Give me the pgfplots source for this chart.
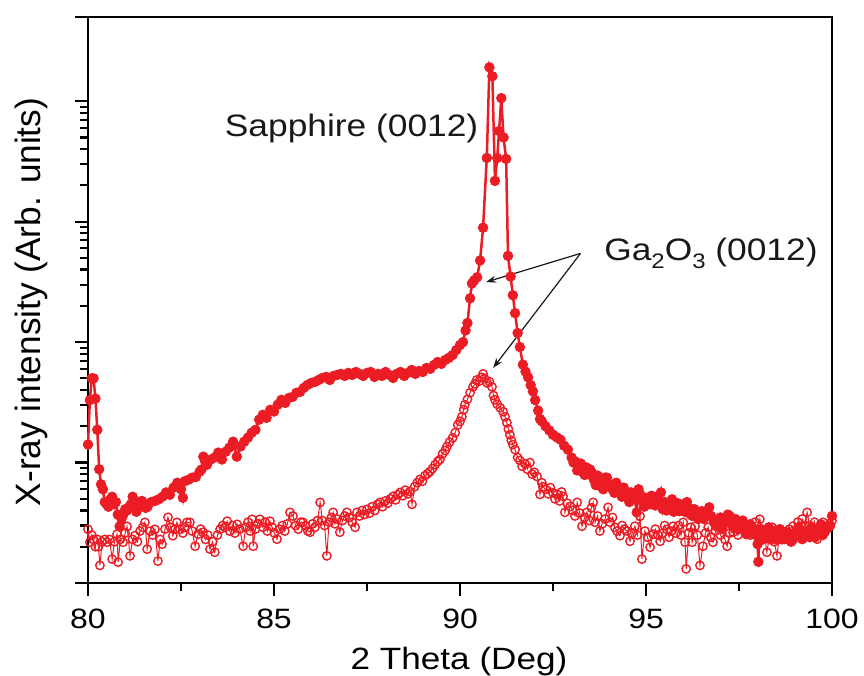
\documentclass[border=0pt]{standalone}
\usepackage{pgfplots}
\pgfplotsset{compat=1.18}
\usepackage{fontspec}
\setmainfont{Liberation Sans}[FakeStretch=1.14]
\newfontfamily\plainsans{Liberation Sans}
\usetikzlibrary{arrows.meta}
\definecolor{xrdred}{RGB}{236,28,36}
\definecolor{inkgray}{RGB}{25,25,25}
\newcommand{\sub}[1]{\raisebox{-0.5ex}{\fontsize{10.5}{12}\selectfont #1}}

\begin{document}
\begin{tikzpicture}
\begin{axis}[
  scale only axis, width=372pt, height=283pt,
  xmin=80, xmax=100, ymode=log, ymin=1, ymax=50000,
  clip=false,
  xtick={80,85,90,95,100}, minor x tick num=1,
  ytick={1,10,100,1000,10000}, yticklabels={,,,,,},
  extra y ticks={50000}, extra y tick labels={,},
  tick align=outside, tick pos=left,
  major tick length=6.5pt, minor tick length=4pt,
  every tick/.style={line width=1.1pt, black},
  axis line style={line width=1.3pt},
  /pgf/number format/assume math mode=true,
  xticklabel style={font=\fontsize{14}{16}\selectfont, anchor=base, yshift=-16pt},
  every axis x label/.style={at={(axis description cs:0.4987,-0.153)}, anchor=base,
    font=\fontsize{15.4}{18}\selectfont},
  every axis y label/.style={at={(axis description cs:-0.0645,0.4965)}, anchor=base,
    rotate=90, font=\plainsans\fontsize{17.6}{20}\selectfont},
  xlabel={2 Theta (Deg)},
  ylabel={X-ray intensity (Arb. units)},
]
% film scan (open symbols)
\addplot[xrdred, line width=0.5pt, mark=o, mark size=2.1pt, mark options={line width=0.7pt, fill=white}] coordinates {
(80.00,2.79) (80.05,2.18) (80.10,2.5) (80.15,2.3) (80.20,2.0) (80.24,2.31) (80.28,2.0) (80.32,1.40) (80.38,2.2) (80.45,2.3)
(80.51,2.18) (80.58,2.3) (80.65,1.58) (80.71,2.2) (80.78,2.54) (80.81,1.49) (80.87,2.3) (80.94,2.18) (81.00,2.6) (81.05,2.95)
(81.13,1.68) (81.20,2.3) (81.26,2.47) (81.33,2.2) (81.40,2.70) (81.47,2.9) (81.53,3.19) (81.59,1.91) (81.67,2.70) (81.74,2.5)
(81.80,2.79) (81.88,1.52) (81.94,2.3) (81.99,2.10) (82.07,2.8) (82.15,3.51) (82.22,2.9) (82.28,2.47) (82.34,2.8) (82.39,3.19)
(82.47,2.79) (82.55,2.6) (82.60,2.9) (82.66,3.19) (82.74,3.19) (82.80,2.7) (82.88,2.02) (82.96,2.54) (83.03,2.8) (83.09,2.64)
(83.16,2.3) (83.22,2.5) (83.28,1.91) (83.35,2.2) (83.41,1.80) (83.48,2.5) (83.55,2.79) (83.62,3.0) (83.68,2.9) (83.74,3.26)
(83.81,2.7) (83.88,3.0) (83.95,2.6) (84.01,3.07) (84.08,2.8) (84.17,2.02) (84.24,2.9) (84.30,3.2) (84.36,2.7) (84.41,3.38)
(84.44,2.02) (84.50,2.8) (84.56,3.1) (84.62,3.38) (84.70,2.9) (84.76,3.2) (84.82,2.7) (84.89,3.26) (84.95,2.9) (85.01,2.6)
(85.08,2.31) (85.15,2.8) (85.22,3.0) (85.29,2.7) (85.36,3.1) (85.43,3.86) (85.51,3.6) (85.58,3.0) (85.65,2.8) (85.72,3.2)
(85.78,3.19) (85.85,3.0) (85.91,2.7) (85.97,2.64) (86.04,3.1) (86.10,2.9) (86.17,3.3) (86.24,4.67) (86.30,3.3) (86.36,3.0)
(86.42,1.68) (86.48,3.2) (86.54,3.5) (86.59,3.86) (86.64,3.1) (86.69,3.4) (86.77,2.64) (86.84,3.3) (86.90,3.6) (86.96,3.86)
(87.03,3.5) (87.10,3.2) (87.18,2.90) (87.23,3.86) (87.30,3.6) (87.37,4.0) (87.43,3.7) (87.50,4.09) (87.57,3.8) (87.64,4.3)
(87.71,4.0) (87.78,4.5) (87.85,4.67) (87.92,4.3) (87.99,4.8) (88.06,4.6) (88.13,5.0) (88.20,5.24) (88.27,4.9) (88.33,5.4)
(88.39,5.65) (88.46,5.3) (88.53,5.9) (88.60,5.5) (88.66,5.75) (88.71,4.5) (88.78,6.3) (88.85,6.8) (88.92,7.24) (88.99,7.0)
(89.06,7.8) (89.13,8.1) (89.19,8.4) (89.26,8.9) (89.33,9.6) (89.40,10.2) (89.46,10.6) (89.53,11.8) (89.60,12.6) (89.65,13.6)
(89.72,14.8) (89.80,16.0) (89.87,17.7) (89.94,20.5) (90.00,22.0) (90.05,24.0) (90.10,27.5) (90.13,30.2) (90.20,33.5) (90.27,38.0)
(90.35,42.5) (90.40,45.0) (90.45,48.5) (90.52,47.5) (90.58,51.0) (90.62,54.5) (90.66,50.0) (90.73,45.8) (90.79,47.0) (90.86,42.5)
(90.90,36.0) (90.94,33.2) (91.00,30.5) (91.08,28.5) (91.16,26.4) (91.21,24.0) (91.26,21.4) (91.30,19.0) (91.34,17.0) (91.38,15.3)
(91.42,14.1) (91.48,12.8) (91.55,11.0) (91.61,10.4) (91.67,9.3) (91.74,9.8) (91.81,8.8) (91.88,10.0) (91.94,8.0) (92.00,8.3)
(92.07,7.66) (92.15,5.44) (92.20,6.8) (92.23,6.3) (92.30,6.0) (92.37,5.5) (92.43,6.2) (92.50,5.6) (92.55,5.0) (92.61,5.44)
(92.68,4.8) (92.73,5.7) (92.77,5.24) (92.82,3.86) (92.88,4.6) (92.96,4.32) (93.03,4.0) (93.09,3.6) (93.15,4.67) (93.22,3.8)
(93.28,2.96) (93.35,3.5) (93.41,3.86) (93.48,3.3) (93.53,4.2) (93.58,4.67) (93.63,3.19) (93.70,3.6) (93.76,2.70) (93.82,3.1)
(93.90,3.4) (93.98,4.25) (94.03,3.19) (94.10,3.5) (94.16,2.9) (94.22,2.70) (94.30,2.47) (94.36,3.0) (94.42,2.8) (94.49,2.70)
(94.57,2.22) (94.63,2.6) (94.70,2.96) (94.77,2.5) (94.84,3.58) (94.89,1.58) (94.97,2.70) (95.04,2.4) (95.11,1.98) (95.19,2.54)
(95.25,2.8) (95.32,2.5) (95.38,2.22) (95.45,2.6) (95.50,3.0) (95.56,2.79) (95.62,2.4) (95.68,2.7) (95.73,2.96) (95.80,2.6)
(95.87,3.0) (95.94,2.5) (96.00,3.19) (96.05,2.18) (96.08,1.31) (96.15,2.6) (96.20,2.9) (96.24,2.18) (96.32,2.96) (96.38,2.5)
(96.45,1.40) (96.53,2.02) (96.60,2.6) (96.67,2.9) (96.74,2.4) (96.80,2.18) (96.87,2.7) (96.94,3.0) (97.00,2.5) (97.06,2.8)
(97.12,2.3) (97.18,2.02) (97.25,2.6) (97.34,2.64) (97.40,3.0) (97.47,2.5) (97.53,2.8) (97.60,3.2) (97.66,3.07) (97.73,2.7)
(97.80,2.5) (97.86,2.9) (97.93,3.2) (98.00,2.8) (98.06,3.38) (98.12,2.7) (98.19,2.4) (98.25,1.80) (98.32,2.5) (98.39,2.9)
(98.45,2.2) (98.52,1.68) (98.58,2.4) (98.65,2.7) (98.72,2.3) (98.79,2.47) (98.85,2.8) (98.95,2.96) (99.01,2.6) (99.08,3.2)
(99.14,2.8) (99.20,3.4) (99.27,3.0) (99.33,3.86) (99.40,3.0) (99.47,2.7) (99.53,3.2) (99.60,2.31) (99.67,2.8) (99.76,3.19)
(99.82,2.7) (99.90,3.0) (100.00,3.3)
};
% film + substrate scan (filled symbols)
\addplot[xrdred, line width=1.25pt, mark=*, mark size=2.4pt, mark options={fill=xrdred, draw=xrdred, line width=0.4pt}] coordinates {
(80.00,14.1) (80.05,33) (80.10,50) (80.15,50) (80.20,34) (80.25,18.7) (80.30,8.8) (80.35,6.6) (80.40,6.0) (80.45,4.7)
(80.50,4.5) (80.55,4.3) (80.60,4.95) (80.65,5.2) (80.70,4.5) (80.75,4.7) (80.80,3.7) (80.85,2.95) (80.90,3.4) (80.95,3.7)
(81.00,4.1) (81.05,4.0) (81.10,4.25) (81.15,4.5) (81.20,5.2) (81.25,4.5) (81.30,3.9) (81.35,4.25) (81.40,4.7) (81.45,4.8)
(81.50,4.5) (81.55,4.2) (81.60,4.3) (81.70,4.7) (81.80,4.8) (81.90,4.95) (82.00,5.2) (82.10,5.65) (82.20,5.4) (82.30,6.2)
(82.40,6.8) (82.50,6.0) (82.55,5.1) (82.60,7.0) (82.70,7.2) (82.80,7.5) (82.90,7.6) (83.00,8.4) (83.05,8.75) (83.10,11.2)
(83.15,10.2) (83.20,9.6) (83.30,10.6) (83.40,11.0) (83.50,12.1) (83.60,10.6) (83.70,12.3) (83.80,13.3) (83.90,14.9) (84.00,11.2)
(84.10,13.6) (84.20,14.9) (84.30,16.1) (84.40,17.7) (84.50,18.7) (84.60,22.7) (84.70,24.9) (84.80,23.5) (84.90,27.4) (85.00,26.5)
(85.10,30.2) (85.20,33.2) (85.30,31.3) (85.40,34.4) (85.50,35.1) (85.60,37.9) (85.70,38.6) (85.80,41.7) (85.90,44.1) (86.00,45.8)
(86.10,46.7) (86.20,48.5) (86.30,50.4) (86.40,51.4) (86.50,48.5) (86.60,52.4) (86.70,53.4) (86.80,54.5) (86.90,52.4) (87.00,55.5)
(87.10,53.4) (87.20,56.5) (87.30,54.5) (87.40,52.4) (87.50,55.5) (87.60,56.5) (87.70,51.4) (87.80,54.5) (87.90,52.4) (88.00,56.5)
(88.10,53.4) (88.20,50.4) (88.30,54.5) (88.40,56.5) (88.50,52.4) (88.60,55.5) (88.70,58.7) (88.80,54.5) (88.90,57.6) (89.00,56.5)
(89.10,61.0) (89.20,60.0) (89.30,64.6) (89.40,68.4) (89.50,66.0) (89.60,71.0) (89.70,74.0) (89.80,78.0) (89.90,86.0) (90.00,94.5)
(90.08,100) (90.15,125) (90.20,144) (90.27,231) (90.32,307) (90.38,325) (90.46,345) (90.54,476) (90.62,891) (90.72,3380)
(90.79,19100) (90.87,16100) (90.94,2180) (91.00,3380) (91.05,5650) (91.11,10600) (91.17,5000) (91.24,3320) (91.29,520) (91.36,350)
(91.42,245) (91.48,174) (91.55,119) (91.61,91) (91.69,65) (91.76,57) (91.83,51) (91.90,44) (91.96,39) (92.02,33)
(92.10,27) (92.15,23) (92.20,22) (92.30,20) (92.40,18.5) (92.50,17.0) (92.60,16.2) (92.70,15.5) (92.80,13.8) (92.90,12.8)
(93.00,11.0) (93.05,10.0) (93.10,10.2) (93.15,8.6) (93.20,9.4) (93.25,9.8) (93.30,8.3) (93.35,7.9) (93.40,9.1) (93.45,8.0)
(93.50,8.75) (93.55,8.2) (93.60,7.2) (93.65,6.5) (93.70,7.8) (93.75,7.0) (93.80,6.3) (93.85,6.0) (93.90,7.5) (93.95,7.5)
(94.00,6.6) (94.05,6.3) (94.10,6.0) (94.15,5.6) (94.20,6.8) (94.25,6.0) (94.30,5.8) (94.35,5.2) (94.40,6.2) (94.45,5.8)
(94.50,5.2) (94.55,4.7) (94.60,5.65) (94.65,5.3) (94.70,4.95) (94.75,3.86) (94.80,6.0) (94.85,5.4) (94.90,4.8) (94.95,4.3)
(95.00,5.1) (95.05,4.6) (95.10,4.5) (95.15,5.3) (95.20,4.95) (95.25,4.4) (95.30,5.2) (95.35,4.8) (95.40,5.65) (95.45,4.1)
(95.50,4.7) (95.55,4.0) (95.60,4.25) (95.65,4.6) (95.70,4.95) (95.75,3.9) (95.80,4.3) (95.85,4.6) (95.90,3.95) (95.95,4.1)
(96.00,4.5) (96.05,3.9) (96.10,4.7) (96.15,4.2) (96.20,3.7) (96.25,3.6) (96.30,4.1) (96.35,3.8) (96.40,3.4) (96.45,3.6)
(96.50,3.95) (96.55,3.4) (96.60,3.7) (96.65,3.86) (96.70,4.25) (96.75,3.6) (96.80,3.4) (96.85,3.1) (96.90,2.95) (96.95,3.3)
(97.00,3.5) (97.05,2.9) (97.10,3.2) (97.15,3.4) (97.20,3.7) (97.25,3.6) (97.30,3.07) (97.35,2.9) (97.40,3.4) (97.45,3.1)
(97.50,2.8) (97.55,3.2) (97.60,3.3) (97.65,2.8) (97.70,2.54) (97.75,2.9) (97.80,3.07) (97.85,2.6) (97.90,2.7) (97.95,2.5)
(98.00,2.1) (98.02,1.5) (98.05,2.6) (98.10,2.8) (98.15,2.3) (98.20,2.4) (98.25,2.6) (98.30,2.9) (98.35,2.3) (98.40,2.54)
(98.45,2.7) (98.50,2.31) (98.55,2.5) (98.60,2.8) (98.65,2.3) (98.70,2.4) (98.75,2.6) (98.80,2.64) (98.85,2.3) (98.90,2.2)
(98.95,2.3) (99.00,2.54) (99.05,2.7) (99.10,2.9) (99.15,2.4) (99.20,2.31) (99.25,2.6) (99.30,2.7) (99.35,2.5) (99.40,2.4)
(99.45,2.9) (99.50,2.8) (99.55,2.4) (99.60,2.5) (99.65,2.7) (99.70,3.07) (99.75,2.5) (99.80,2.64) (99.85,2.8) (99.90,2.9)
(99.95,3.0) (100.00,3.6)
};
% annotations
\node[anchor=base west, inkgray, font=\fontsize{15.5}{18}\selectfont] at (axis cs:83.49,5140) {Sapphire (0012)};
\node[anchor=base west, inkgray, font=\fontsize{15.5}{18}\selectfont] at (axis cs:93.69,476) {Ga\sub{2}O\sub{3} (0012)};
\draw[inkgray, line width=0.6pt, -{Stealth[length=5pt,width=3.5pt]}] (axis cs:93.24,545) -- (axis cs:90.70,315);
\draw[inkgray, line width=0.6pt, -{Stealth[length=5pt,width=3.5pt]}] (axis cs:93.24,545) -- (axis cs:90.89,61);
\coordinate (sw) at (rel axis cs:0,0);
\coordinate (ne) at (rel axis cs:1,1);
\end{axis}
\pgfresetboundingbox
\path[use as bounding box] ([shift={(-44pt,-46pt)}]sw) rectangle ([shift={(16pt,8.5pt)}]ne);
\end{tikzpicture}
\end{document}
